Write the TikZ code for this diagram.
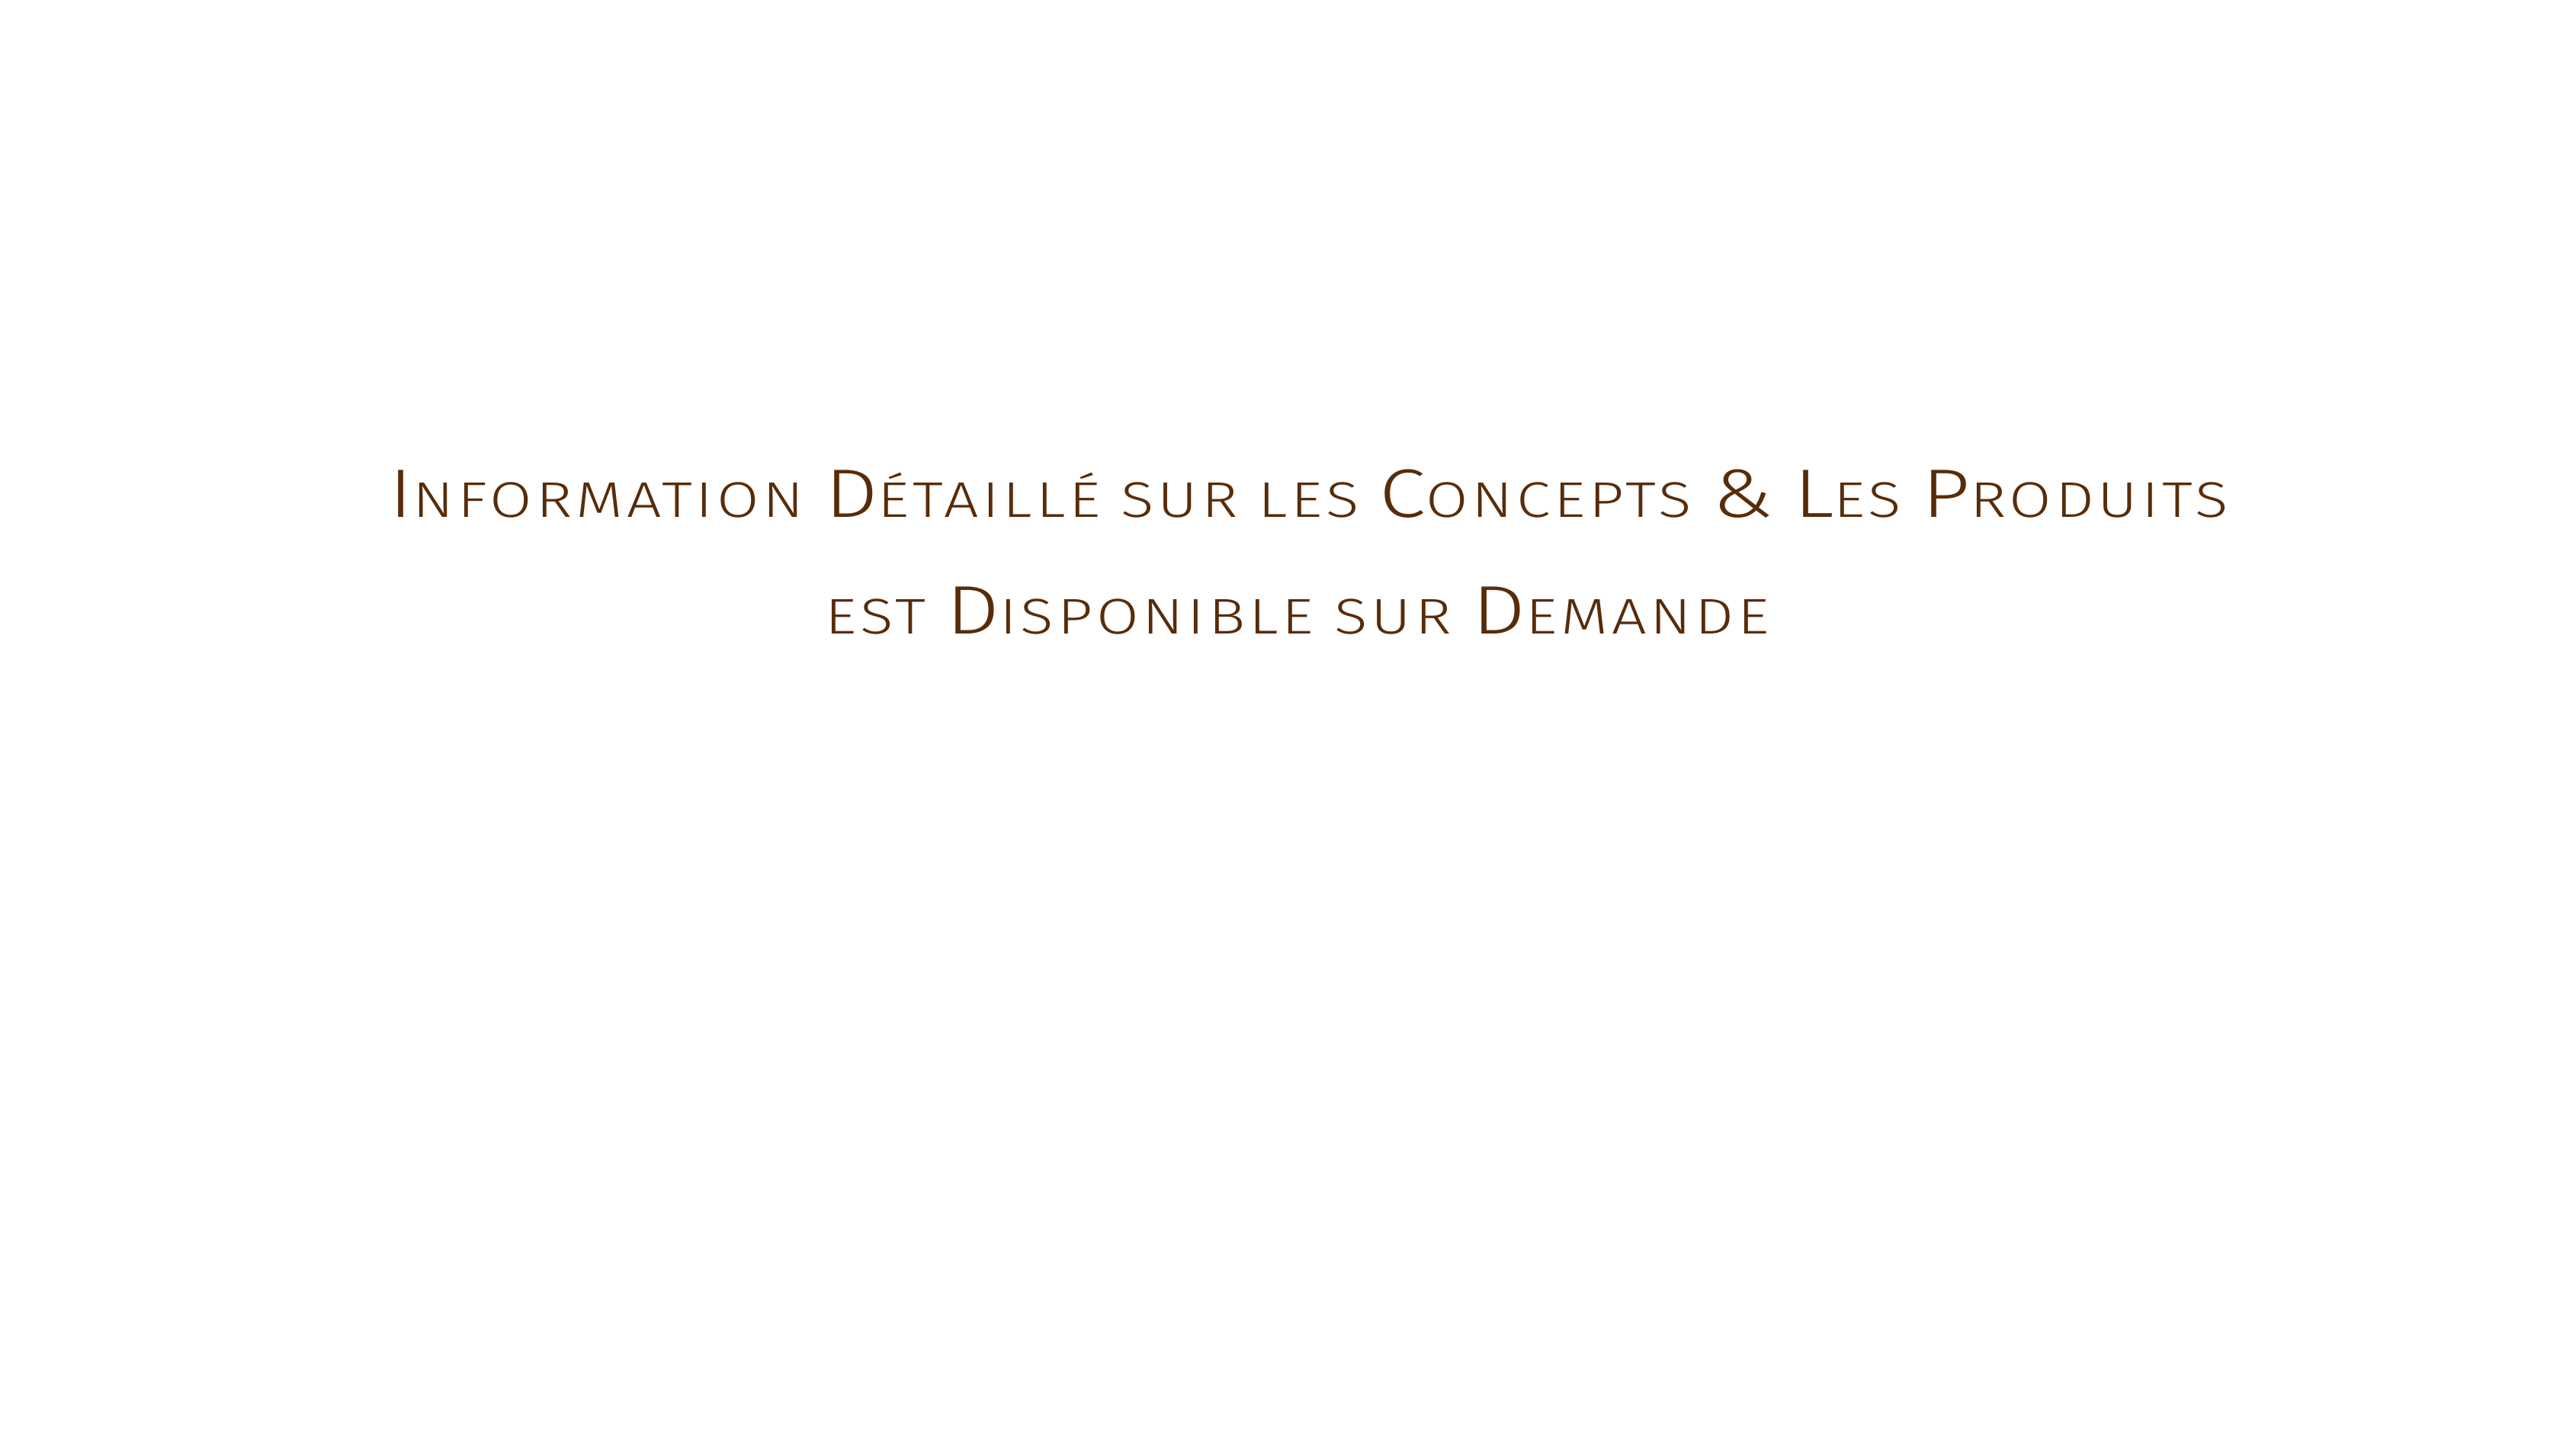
\documentclass[tikz,border=0pt]{standalone}
\usepackage{fontspec}
\usepackage{graphicx}
\newfontfamily\tf{Fira Sans}[UprightFont={* Light}, LetterSpace=6]
\definecolor{brownink}{RGB}{88,44,10}
\newcommand\Cp[1]{{\fontsize{25.6}{30}\selectfont #1}}
\newcommand\fitline[2]{\resizebox{#1}{6.2mm}{\rule{0pt}{17.64pt}\smash{#2}}}
\tikzset{titleline/.style={anchor=base west, inner sep=0pt, text=brownink, font=\tf\fontsize{18.7}{22}\selectfont}}
\begin{document}
\begin{tikzpicture}[x=1cm,y=1cm]
\useasboundingbox (0,0) rectangle (33.79,19.01);
\fill[white] (0,0) rectangle (33.79,19.01);
\node[titleline] (l1) at (5.10,12.22) {\fitline{24.12cm}{\Cp{I}NFORMATION \Cp{D}ÉTAILLÉ SUR LES \Cp{C}ONCEPTS \Cp{\&} \Cp{L}ES \Cp{P}RODUITS}};
\node[titleline] (l2) at (10.82,10.69) {\fitline{12.38cm}{EST \Cp{D}ISPONIBLE SUR \Cp{D}EMANDE}};
\end{tikzpicture}
\end{document}
